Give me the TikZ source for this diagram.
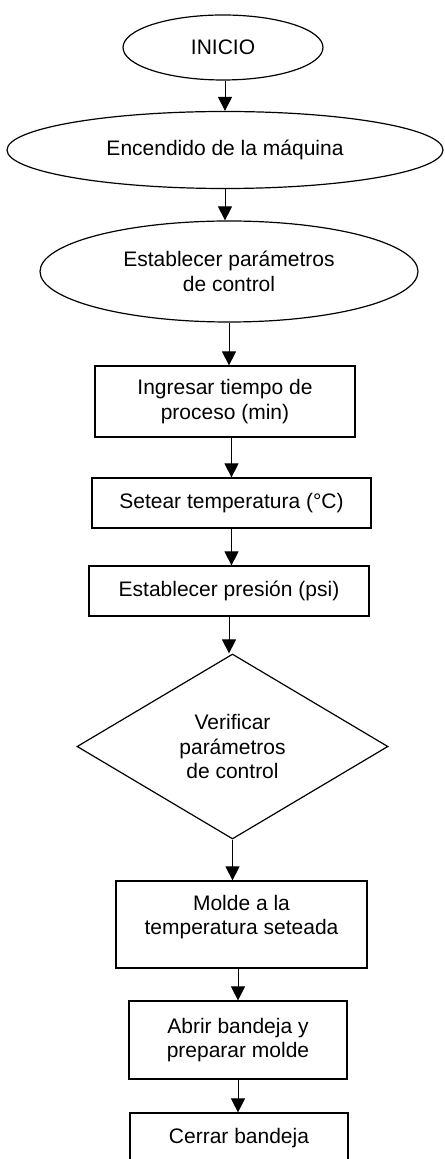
\documentclass[tikz,border=0pt]{standalone}
\usepackage{fontspec}
\setmainfont{Liberation Sans}
\usetikzlibrary{shapes.geometric,arrows.meta}

\begin{document}
\begin{tikzpicture}[x=0.5pt,y=-0.5pt,
    font=\fontsize{10.5}{12.2}\selectfont,
    oval/.style={draw,ellipse,line width=0.6pt,inner sep=0pt,align=center},
    caja/.style={draw,rectangle,line width=0.6pt,inner sep=0pt,align=center},
    rombo/.style={draw,diamond,line width=0.6pt,inner sep=0pt,align=center},
    flecha/.style={line width=0.45pt,-{Triangle[width=7pt,length=7pt]}}]
			\useasboundingbox (0,0) rectangle (444,1159);
			\clip (0,0) rectangle (444,1159);
			\node[oval,minimum width=100pt,minimum height=32.5pt] (inicio) at (223,47.5) {INICIO};
			\node[oval,minimum width=218pt,minimum height=38.5pt] (encendido) at (225,150) {Encendido de la máquina};
			\node[oval,minimum width=189pt,minimum height=50.5pt] (parametros) at (229,271.5) {Establecer parámetros\\de control};
			\node[caja,minimum width=130pt,minimum height=35.5pt] (tiempo) at (225,401.5) {Ingresar tiempo de\\proceso (min)};
			\node[caja,minimum width=139.5pt,minimum height=25pt] (temperatura) at (231.5,503) {Setear temperatura (°C)};
			\node[caja,minimum width=140pt,minimum height=25pt] (presion) at (229,591) {Establecer presión (psi)};
			\node[rombo,minimum width=155.5pt,minimum height=92.5pt] (verificar) at (232.5,746.5) {Verificar\\parámetros\\de control};
			\node[caja,minimum width=125.5pt,minimum height=43.5pt,text depth=9.5pt] (molde) at (241.5,924.5) {Molde a la\\temperatura seteada};
			\node[caja,minimum width=109pt,minimum height=39pt] (abrir) at (238,1040) {Abrir bandeja y\\preparar molde};
			\node[caja,minimum width=109pt,minimum height=25pt] (cerrar) at (239,1138) {Cerrar bandeja};
			\draw[flecha] (inicio.south -| encendido.north) -- (encendido.north);
			\draw[flecha] (encendido.south) -- (encendido.south |- parametros.north);
			\draw[flecha] (parametros.south) -- (parametros.south |- tiempo.north);
			\draw[flecha] (temperatura.north |- tiempo.south) -- (temperatura.north);
			\draw[flecha] (temperatura.south) -- (temperatura.south |- presion.north);
			\draw[flecha] (presion.south) -- (presion.south |- verificar.north);
			\draw[flecha] (verificar.south) -- (verificar.south |- molde.north);
			\draw[flecha] (abrir.north |- molde.south) -- (abrir.north);
			\draw[flecha] (abrir.south) -- (abrir.south |- cerrar.north);
		\end{tikzpicture}
\end{document}
